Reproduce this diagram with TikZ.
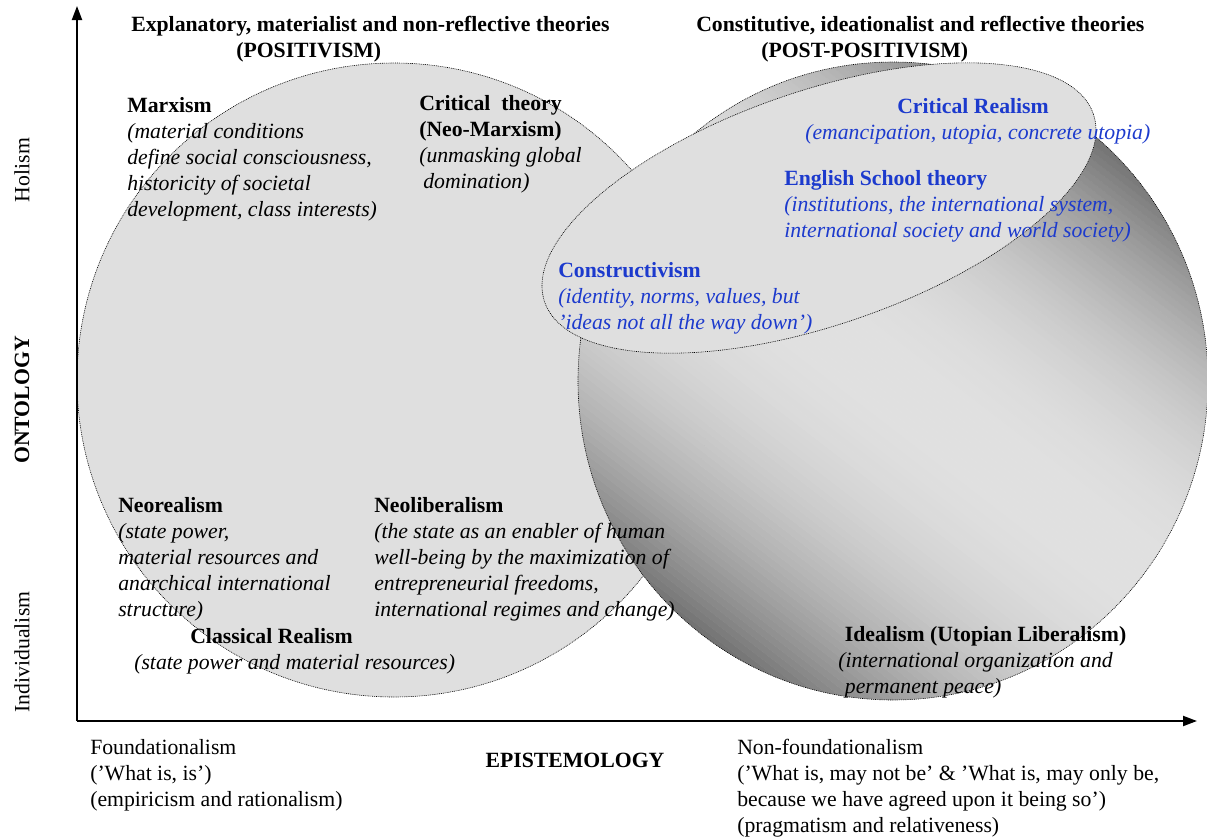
\documentclass[tikz,border=0pt]{standalone}
\usepackage{fontspec}
\setmainfont{Liberation Serif}
\usetikzlibrary{arrows.meta}

\definecolor{discfill}{RGB}{223,223,223}
\definecolor{schoolblue}{RGB}{28,58,205}

\tikzset{
  rim/.style={draw=black, line width=0.45pt, dash pattern=on 0.7pt off 0.7pt},
  axisarrow/.style={line width=1.5pt, -{Triangle[length=10.5pt,width=7.5pt]}},
  block/.style={anchor=north west, align=left, inner sep=0pt,
    font=\fontsize{16.3}{19.5}\selectfont},
  boldblock/.style={block, font=\fontsize{16.3}{19.5}\selectfont\bfseries},
  blueblock/.style={block, text=schoolblue},
  sidelabel/.style={rotate=90, inner sep=0pt, font=\fontsize{16.3}{19.5}\selectfont},
}

\begin{document}
\begin{tikzpicture}[x=0.75pt, y=-0.75pt]
\useasboundingbox (0,0) rectangle (1207,839);

% positivist disc
\draw[rim, fill=discfill] (394,380) circle [radius=317];

% post-positivist sphere: diagonal dark-light-dark band
% strips bounded by the lines x - 1.3 y = c
\begin{scope}
  \clip (893,381) ellipse [x radius=315, y radius=319];
  \foreach \i in {0,...,104} {
    \pgfmathsetmacro{\ca}{-125+\i*10}
    \pgfmathsetmacro{\cb}{\ca+10.6}
    \pgfmathsetmacro{\d}{min(1,abs(\ca+5-398)/518)}
    \pgfmathsetmacro{\g}{88-43*pow(\d,2.2)}
    \fill[white!\g!black] (\ca+52,40) -- (\cb+52,40) -- (\cb+936,720) -- (\ca+936,720) -- cycle;
  }
\end{scope}
\draw[rim] (893,381) ellipse [x radius=315, y radius=319];

% tilted ellipse of the reflective middle ground
\draw[rim, fill=discfill, rotate around={18.9:(819,208)}]
  (819,208) ellipse [x radius=290, y radius=117];

% axes
\coordinate (origin) at (77,721);
\coordinate (ontotip) at (77,6);
\coordinate (epitip) at (1197,721);
\draw[axisarrow] (origin) -- (ontotip);
\draw[axisarrow] (origin) -- (epitip);

% headings
\node[boldblock] (positivism) at (131,13)
  {\strut Explanatory, materialist and non-reflective theories\\
   \hspace*{78.75pt}(POSITIVISM)};
\node[boldblock] (postpositivism) at (696,13)
  {\strut Constitutive, ideationalist and reflective theories\\
   \hspace*{48.75pt}(POST-POSITIVISM)};

% theories
\node[block] (marxism) at (127,94)
  {\strut\textbf{Marxism}\\
   \textit{(material conditions}\\
   \textit{define social consciousness,}\\
   \textit{historicity of societal}\\
   \textit{development, class interests)}};
\node[block] (criticaltheory) at (419,92)
  {\strut\textbf{Critical~~theory}\\
   \textbf{(Neo-Marxism)}\\
   \textit{(unmasking global}\\
   \hspace*{3pt}\textit{domination)}};
\node[blueblock] (criticalrealism) at (805,95)
  {\strut\hspace*{69pt}\textbf{Critical Realism}\\
   \textit{(emancipation, utopia, concrete utopia)}};
\node[blueblock] (englishschool) at (784,167)
  {\strut\textbf{English School theory}\\
   \textit{(institutions, the international system,}\\
   \textit{international society and world society)}};
\node[blueblock] (constructivism) at (558,259)
  {\strut\textbf{Constructivism}\\
   \textit{(identity, norms, values, but}\\
   \textit{’ideas not all the way down’)}};
\node[block] (neorealism) at (118,494)
  {\strut\textbf{Neorealism}\\
   \textit{(state power,}\\
   \textit{material resources and}\\
   \textit{anarchical international}\\
   \textit{structure)}};
\node[block] (neoliberalism) at (374,494)
  {\strut\textbf{Neoliberalism}\\
   \textit{(the state as an enabler of human}\\
   \textit{well-being by the maximization of}\\
   \textit{entrepreneurial freedoms,}\\
   \textit{international regimes and change)}};
\node[block] (classicalrealism) at (134,625)
  {\strut\hspace*{42pt}\textbf{Classical Realism}\\
   \textit{(state power and material resources)}};
\node[block] (idealism) at (838,623)
  {\strut\hspace*{5pt}\textbf{Idealism (Utopian Liberalism)}\\
   \textit{(international organization and}\\
   \hspace*{5pt}\textit{permanent peace)}};

% epistemology axis labels
\node[block] (foundationalism) at (90,736)
  {\strut Foundationalism\\
   (’What is, is’)\\
   (empiricism and rationalism)};
\node[inner sep=0pt, font=\fontsize{16.3}{19.5}\selectfont\bfseries] (epistemology) at (575,760) {EPISTEMOLOGY};
\node[block] (nonfoundationalism) at (737,736)
  {\strut Non-foundationalism\\
   (’What is, may not be’ \& ’What is, may only be,\\
   because we have agreed upon it being so’)\\
   (pragmatism and relativeness)};

% ontology axis labels
\node[sidelabel] (holism) at (22,170) {Holism};
\node[sidelabel, font=\fontsize{16.3}{19.5}\selectfont\bfseries] (ontology) at (22,400) {ONTOLOGY};
\node[sidelabel] (individualism) at (22,652) {Individualism};
\end{tikzpicture}
\end{document}
